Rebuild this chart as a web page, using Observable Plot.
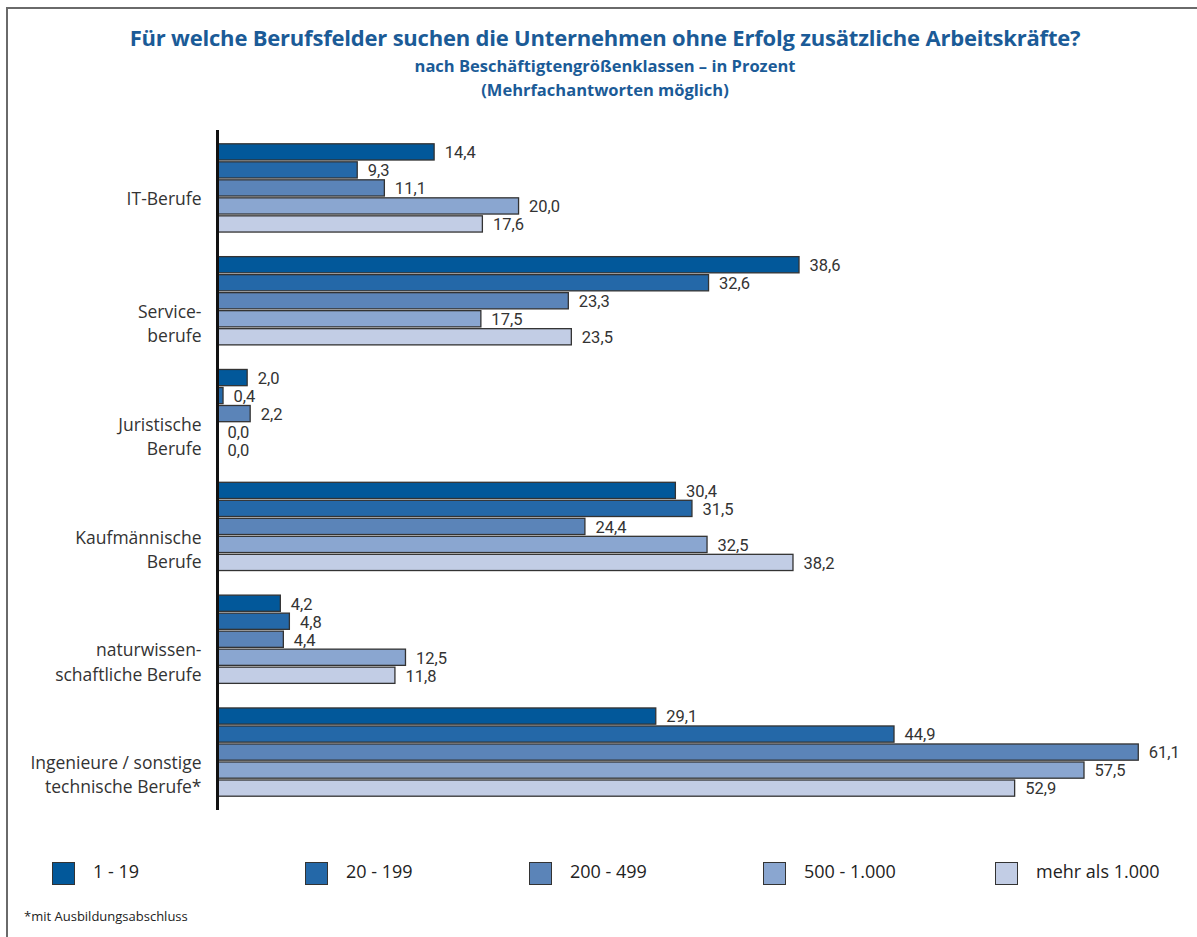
<!DOCTYPE html>
<html>
<head>
<meta charset="utf-8">
<script src="https://cdn.jsdelivr.net/npm/d3@7"></script>
<script src="https://cdn.jsdelivr.net/npm/@observablehq/plot@0.6"></script>
<style>
  html, body { margin: 0; padding: 0; background: #fff; }
  #wrap { position: relative; width: 1197px; height: 937px; overflow: hidden; font-family: "Open Sans", sans-serif; }
  #frameTop { position: absolute; left: 7px; top: 7px; width: 1190px; height: 2px; background: #6a6a6a; }
  #frameLeft { position: absolute; left: 6px; top: 7px; width: 2px; height: 930px; background: #6a6a6a; }
  .title { position: absolute; left: 0; width: 1210px; text-align: center; color: #1b5b97; font-weight: 700; }
  #t1 { top: 22px; font-size: 22px; letter-spacing: -0.2px; }
  #t2 { top: 54px; font-size: 16.5px; }
  #t3 { top: 78px; font-size: 16.5px; }
  #chart { position: absolute; left: 0; top: 120px; }
  .sw { position: absolute; top: 862px; width: 21px; height: 21px; border: 1.5px solid #333; }
  .lt { position: absolute; top: 859px; font-size: 18px; color: #222; font-family: "Open Sans", sans-serif; }
  #foot { position: absolute; left: 24px; top: 907px; font-size: 13px; color: #222; }
</style>
</head>
<body>
<div id="wrap">
  <div id="frameTop"></div>
  <div id="frameLeft"></div>
  <div class="title" id="t1">Für welche Berufsfelder suchen die Unternehmen ohne Erfolg zusätzliche Arbeitskräfte?</div>
  <div class="title" id="t2">nach Beschäftigtengrößenklassen – in Prozent</div>
  <div class="title" id="t3">(Mehrfachantworten möglich)</div>
  <div id="chart"></div>
  <div id="legend"></div>
  <div id="foot">*mit Ausbildungsabschluss</div>
</div>
<script>
const categories = ["IT-Berufe", "Service-\nberufe", "Juristische\nBerufe", "Kaufmännische\nBerufe", "naturwissen-\nschaftliche Berufe", "Ingenieure / sonstige\ntechnische Berufe*"];
const series = ["1 - 19", "20 - 199", "200 - 499", "500 - 1.000", "mehr als 1.000"];
const colors = ["#02589a", "#2468a8", "#5b84b8", "#8aa6d0", "#c2cde5"];
const v1_19     = [14.4, 38.6, 2.0, 30.4, 4.2, 29.1];
const v20_199   = [9.3, 32.6, 0.4, 31.5, 4.8, 44.9];
const v200_499  = [11.1, 23.3, 2.2, 24.4, 4.4, 61.1];
const v500_1000 = [20.0, 17.5, 0.0, 32.5, 12.5, 57.5];
const v1000p    = [17.6, 23.5, 0.0, 38.2, 11.8, 52.9];

const seriesValues = [v1_19, v20_199, v200_499, v500_1000, v1000p];
const data = [];
categories.forEach((c, i) => {
  series.forEach((s, j) => {
    data.push({category: c, series: s, value: seriesValues[j][i]});
  });
});
const fmt = v => v.toFixed(1).replace(".", ",");

const chart = Plot.plot({
  width: 1197,
  height: 692,
  marginLeft: 217,
  marginRight: 15,
  marginTop: 22,
  marginBottom: 14,
  x: {domain: [0, 64], axis: null},
  y: {domain: series, padding: 0.1, round: false, axis: null},
  fy: {domain: categories, paddingInner: 0.186, paddingOuter: 0, round: false, axis: null},
  color: {domain: series, range: colors},
  style: {fontFamily: "Roboto, sans-serif"},
  marks: [
    Plot.barX(data, {x: "value", y: "series", fy: "category", fill: "series", stroke: "#333", strokeWidth: 1.3}),
    Plot.text(data, {x: "value", y: "series", fy: "category", text: d => fmt(d.value), textAnchor: "start", dx: 10, dy: 0.5, fontSize: 16.5, fill: "#333", fontFamily: "Roboto, sans-serif"}),
    Plot.ruleX(categories, {x: 0, fy: d => d, stroke: "#111", strokeWidth: 3, insetTop: -12, insetBottom: -12}),
    Plot.text(categories, {fy: d => d, text: d => d, frameAnchor: "left", textAnchor: "end", lineAnchor: "top", lineHeight: 1.38, dx: -16, dy: -0.5, fontSize: 17.5, fill: "#333", fontFamily: "Open Sans, sans-serif"})
  ]
});
document.getElementById("chart").appendChild(chart);

const legendX = [52, 305, 529, 763, 995];
const legend = document.getElementById("legend");
series.forEach((s, i) => {
  const sw = document.createElement("div");
  sw.className = "sw";
  sw.style.left = legendX[i] + "px";
  sw.style.background = colors[i];
  legend.appendChild(sw);
  const t = document.createElement("div");
  t.className = "lt";
  t.style.left = (legendX[i] + 41) + "px";
  t.textContent = s;
  legend.appendChild(t);
});
</script>
</body>
</html>
